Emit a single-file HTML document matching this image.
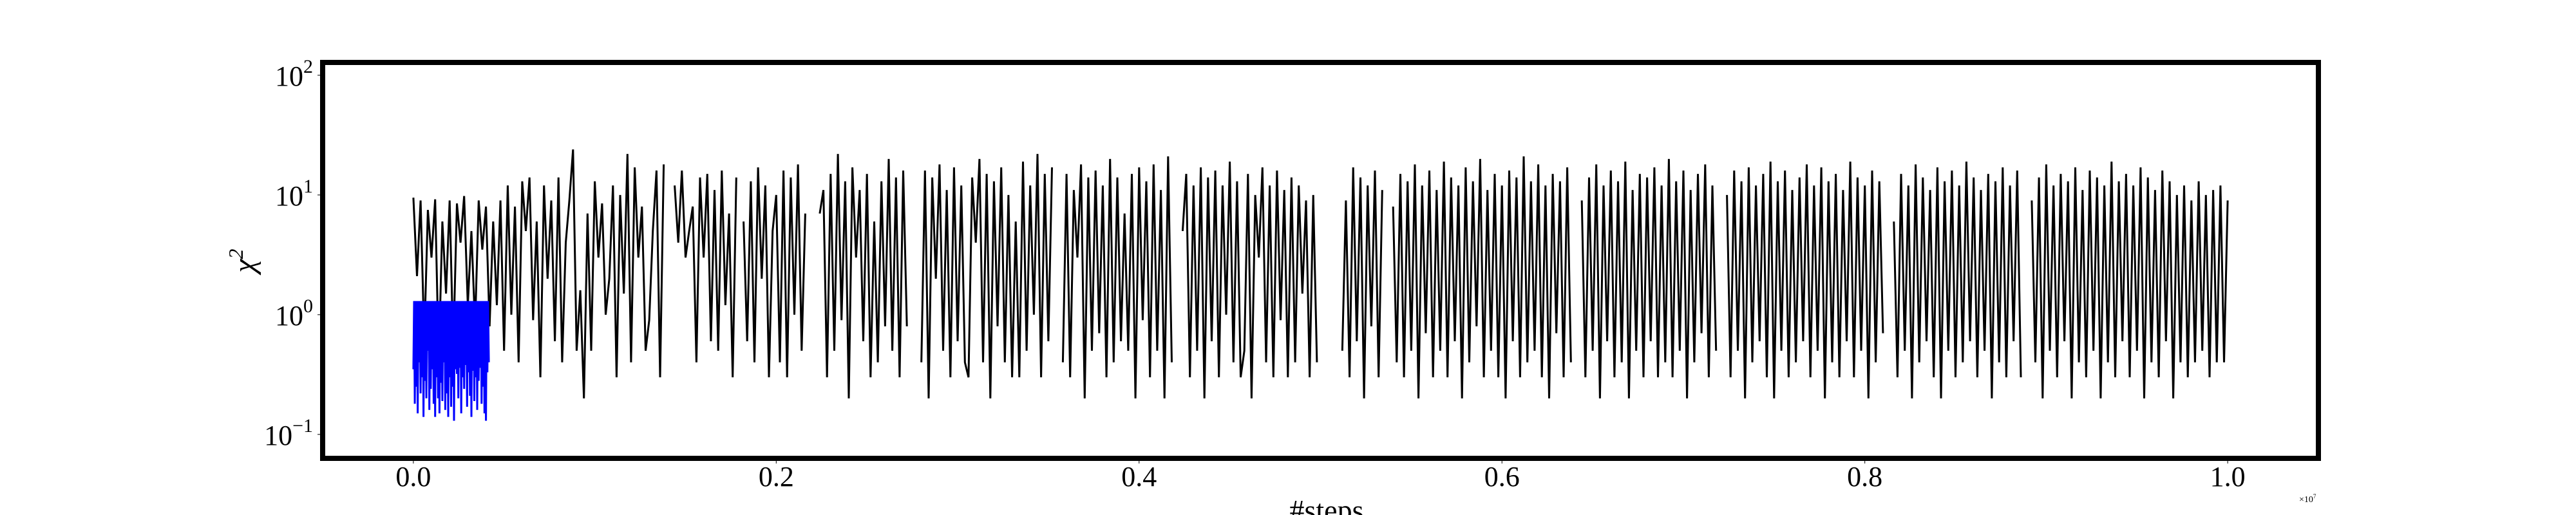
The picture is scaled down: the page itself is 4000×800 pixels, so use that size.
<!DOCTYPE html>
<html><head><meta charset="utf-8"><style>
html,body{margin:0;padding:0;background:#fff;width:4000px;height:800px;overflow:hidden}
text{font-family:"Liberation Serif","DejaVu Serif",serif;fill:#000}
</style></head><body>
<svg id="chart" width="4000" height="800" viewBox="0 0 4000 800" xmlns="http://www.w3.org/2000/svg">
<g id="plot"></g>
<rect x="501" y="97" width="3099" height="615" fill="none" stroke="#000" stroke-width="8"/>
<g id="ticks"></g>
<text x="395" y="405" font-size="48" text-anchor="middle" transform="rotate(-90 395 405)" font-style="italic">χ<tspan font-size="32" dy="-18">2</tspan></text>
<text x="2060" y="808" font-size="46" text-anchor="middle">#steps</text>
<text x="3570" y="780" font-size="14">×10<tspan font-size="9" dy="-6">7</tspan></text>
</svg>
<script>
const xTicks=[0.0,0.2,0.4,0.6,0.8,1.0];
const xTickLabels=["0.0","0.2","0.4","0.6","0.8","1.0"];
const yTicks=[-1,0,1,2];
const blackStep=0.002;
const blackValues=[
9.5,2.1,9.0,0.6,7.5,3.0,9.2,0.4,6.0,1.5,
9.0,0.5,8.5,4.0,9.8,1.2,5.0,0.8,9.0,3.5,
8.0,0.8,6.0,1.2,9.0,0.5,12,1.0,8.0,0.4,
13,5.0,14,0.9,6.0,0.3,12,2.0,9.0,0.6,
14,0.4,4.0,9.0,24,0.5,1.6,0.2,7.0,0.5,
13,3.0,8.5,1.0,2.0,12,0.3,10,1.5,22,
0.4,17,3.0,8.0,0.5,0.9,5.0,16,0.3,18,
null,null,12,4.0,16,3.0,5.0,8.0,0.4,14,
3.0,15,0.6,11,0.5,16,1.2,7.0,0.3,14,
null,6.0,0.6,13,0.4,17,2.0,12,0.3,5.0,
10,0.4,16,0.3,14,1.0,18,0.5,7.0,null,
null,null,7.0,11,0.3,15,0.5,22,0.9,13,
0.2,17,3.0,11,0.6,15,0.3,6.0,0.4,13,
0.8,20,0.5,14,0.3,16,0.8,null,null,null,
0.4,16,0.2,14,2.0,18,0.5,11,0.3,17,
0.6,12,0.4,0.3,14,4.0,20,0.4,15,0.2,
13,0.8,17,0.4,10,0.3,6.0,0.3,19,0.5,
12,1.0,22,0.3,15,0.6,17,null,null,0.4,
15,0.3,11,3.0,18,0.2,14,0.5,16,0.7,
12,0.3,20,0.4,14,0.6,7.0,0.5,15,0.2,
17,0.9,13,0.3,18,0.5,11,0.2,21,0.4,
null,null,5.0,15,0.3,12,0.5,17,0.2,14,
0.6,16,0.3,12,1.0,19,0.4,13,0.3,0.5,
15,0.2,10,3.0,17,0.4,12,0.3,16,0.9,
11,0.3,14,0.4,12,1.5,9.0,0.3,10,0.4,
null,null,null,null,null,null,0.5,9.0,0.3,17,
0.6,14,0.2,12,0.8,16,0.3,11,null,null,
8.0,0.4,15,0.3,13,0.5,18,0.2,12,0.7,
16,0.3,11,0.5,19,0.3,14,0.6,12,0.2,
17,0.4,13,0.8,20,0.3,11,0.5,15,0.3,
12,0.2,16,0.6,14,0.3,21,0.4,13,0.5,
18,0.3,12,0.2,15,0.7,13,0.3,17,0.4,
null,null,9.0,0.3,14,0.5,18,0.2,12,0.6,
16,0.3,13,0.4,19,0.2,11,0.5,15,0.3,
14,0.6,17,0.3,12,0.4,20,0.3,13,0.5,
16,0.2,11,0.4,15,0.7,18,0.3,12,0.5,
null,null,10,0.3,16,0.5,13,0.2,17,0.4,
12,0.6,15,0.3,19,0.2,13,0.5,16,0.3,
11,0.4,14,0.6,18,0.3,12,0.5,17,0.2,
13,0.4,15,0.3,11,0.6,19,0.3,14,0.5,
12,0.2,16,0.4,13,0.7,null,null,6.0,0.3,
15,0.5,12,0.2,18,0.4,14,0.6,11,0.3,
17,0.2,13,0.5,16,0.3,12,0.4,19,0.6,
14,0.3,11,0.5,15,0.2,13,0.4,17,0.3,
12,0.6,16,0.3,null,null,9.0,0.4,14,0.2,
18,0.5,12,0.3,15,0.6,13,0.2,17,0.4,
11,0.3,16,0.5,14,0.2,12,0.4,19,0.3,
13,0.6,15,0.3,12,0.5,17,0.2,14,0.4,
11,0.3,16,0.6,13,0.2,10,0.4,12,0.3,
9.0,0.4,13,0.5,10,0.3,11,0.4,12,0.4,9.0
];
const blueStep=0.0004;
const blueValues=[
0.35,1.3,0.18,1.3,0.25,1.3,0.15,1.3,0.4,1.3,
0.22,1.3,0.3,1.3,0.14,1.3,0.28,1.3,0.2,1.3,
0.5,1.3,0.16,1.3,0.24,1.3,0.35,1.3,0.18,1.3,
0.14,1.3,0.3,1.3,0.2,1.3,0.15,1.3,0.27,1.3,
0.19,1.3,0.4,1.3,0.16,1.3,0.22,1.3,0.14,1.3,
0.3,1.3,0.17,1.3,0.25,1.3,0.13,1.3,0.35,1.3,
0.32,1.3,0.2,1.3,0.36,1.3,0.15,1.3,0.3,1.3,
0.24,1.3,0.38,1.3,0.17,1.3,0.33,1.3,0.21,1.3,
0.14,1.3,0.34,1.3,0.19,1.3,0.3,1.3,0.16,1.3,
0.28,1.3,0.36,1.3,0.18,1.3,0.25,1.3,0.15,1.3,
0.13,1.3,0.33,1.3,0.4
];
const NS="http://www.w3.org/2000/svg";
const X0=501,X1=3600,Y_TOP=97,Y_BOT=712;
const xMin=-0.05,xMax=1.05,yMinLog=-1.2,yMaxLog=2.107;
function xs(v){return X0+(v-xMin)/(xMax-xMin)*(X1-X0);}
function ys(v){return Y_BOT-(Math.log10(v)-yMinLog)/(yMaxLog-yMinLog)*(Y_BOT-Y_TOP);}
function ysLog(l){return Y_BOT-(l-yMinLog)/(yMaxLog-yMinLog)*(Y_BOT-Y_TOP);}
const plot=document.getElementById('plot');
function drawSeries(vals,step,color,width,name){
  let pts=[];
  const flush=()=>{
    if(pts.length>1){
      const pl=document.createElementNS(NS,'polyline');
      
      
      pl.setAttribute('points',pts.join(' '));
      pl.setAttribute('fill','none');
      pl.setAttribute('stroke',color);
      pl.setAttribute('stroke-width',width);
      plot.appendChild(pl);
    }
    pts=[];
  };
  vals.forEach((v,i)=>{
    if(v===null){flush();return;}
    pts.push(xs(i*step).toFixed(1)+','+ys(v).toFixed(1));
  });
  flush();
}
drawSeries(blackValues,blackStep,'#000',3,'black-chain-line');
drawSeries(blueValues,blueStep,'#0000ff',3,'blue-chain-line');
const tg=document.getElementById('ticks');
xTicks.forEach((t,i)=>{
  const x=xs(t);
  const l=document.createElementNS(NS,'line');
  
  
  l.setAttribute('x1',x);l.setAttribute('x2',x);l.setAttribute('y1',716);l.setAttribute('y2',720);
  l.setAttribute('stroke','#000');l.setAttribute('stroke-width',1);
  tg.appendChild(l);
  const tx=document.createElementNS(NS,'text');
  
  
  tx.setAttribute('x',x);tx.setAttribute('y',755);
  tx.setAttribute('font-size','44');tx.setAttribute('text-anchor','middle');
  tx.textContent=xTickLabels[i];
  tg.appendChild(tx);
});
yTicks.forEach(t=>{
  const y=ysLog(t);
  const l=document.createElementNS(NS,'line');
  
  
  l.setAttribute('x1',493);l.setAttribute('x2',497);l.setAttribute('y1',y);l.setAttribute('y2',y);
  l.setAttribute('stroke','#000');l.setAttribute('stroke-width',1);
  tg.appendChild(l);
  const tx=document.createElementNS(NS,'text');
  
  
  tx.setAttribute('x',486);tx.setAttribute('y',y+16);
  tx.setAttribute('font-size','44');tx.setAttribute('text-anchor','end');
  tx.innerHTML='10<tspan font-size="30" dy="-20">'+(t<0?'−'+(-t):t)+'</tspan>';
  tg.appendChild(tx);
});
</script>
</body></html>
